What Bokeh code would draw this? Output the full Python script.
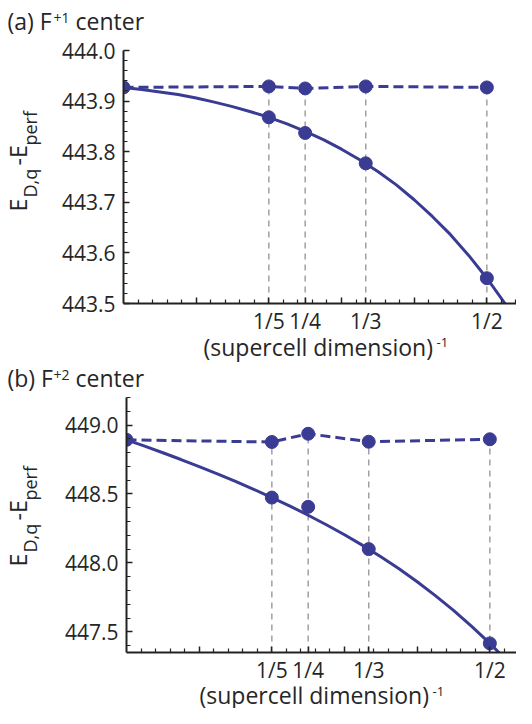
import math
from bokeh.plotting import figure
from bokeh.layouts import column, row
from bokeh.models import FixedTicker, Range1d, PrintfTickFormatter
from bokeh.core.properties import value
from bokeh.embed import file_html
from bokeh.resources import INLINE

# ---------------- data ----------------
frac_x = [1/5, 1/4, 1/3, 1/2]
frac_labels = ["1/5", "1/4", "1/3", "1/2"]
dash_x = [0, 1/5, 1/4, 1/3, 1/2]

# panel (a) F+1 center
a_dashed = [443.927, 443.929, 443.925, 443.929, 443.927]
a_points = [443.868, 443.837, 443.777, 443.550]
a_fit_x = [0, 0.025, 0.05, 0.075, 0.10, 0.125, 0.15, 0.175, 0.20, 0.225, 0.25, 0.275,
           0.30, 0.325, 0.35, 0.375, 0.40, 0.425, 0.45, 0.475, 0.50, 0.525]
a_fit_y = [443.927, 443.923, 443.918, 443.913, 443.906, 443.898, 443.889, 443.879,
           443.868, 443.855, 443.840, 443.824, 443.805, 443.784, 443.761, 443.735,
           443.705, 443.672, 443.636, 443.595, 443.550, 443.500]
a_yticks = [443.5, 443.6, 443.7, 443.8, 443.9, 444.0]
a_yminor = [443.52, 443.54, 443.56, 443.58, 443.62, 443.64, 443.66, 443.68,
            443.72, 443.74, 443.76, 443.78, 443.82, 443.84, 443.86, 443.88,
            443.92, 443.94, 443.96, 443.98]

# panel (b) F+2 center
b_dashed = [448.893, 448.877, 448.937, 448.879, 448.897]
b_points = [448.474, 448.407, 448.100, 447.416]
b_fit_x = [0, 0.025, 0.05, 0.075, 0.10, 0.125, 0.15, 0.175, 0.20, 0.225, 0.25, 0.275,
           0.30, 0.325, 0.35, 0.375, 0.40, 0.425, 0.45, 0.475, 0.50, 0.525]
b_fit_y = [448.893, 448.847, 448.799, 448.750, 448.698, 448.646, 448.591, 448.534,
           448.474, 448.412, 448.346, 448.277, 448.204, 448.127, 448.044, 447.957,
           447.863, 447.763, 447.656, 447.540, 447.416, 447.283]
b_yticks = [447.5, 448.0, 448.5, 449.0]
b_yminor = [447.4, 447.6, 447.7, 447.8, 447.9, 448.1, 448.2, 448.3, 448.4,
            448.6, 448.7, 448.8, 448.9, 449.1, 449.2]

x_major = [0.1, 0.2, 0.25, 0.3, 1/3, 0.4, 0.5]
x_minor = [0.02, 0.04, 0.06, 0.08, 0.12, 0.14, 0.16, 0.18, 0.22, 0.24, 0.26, 0.28,
           0.32, 0.34, 0.36, 0.38, 0.42, 0.44, 0.46, 0.48, 0.52, 0.54]

BLUE = "#3a3c94"
GRAY = "#a0a0a0"
AX = "#222222"
TXT = "#262626"
FONT = "Open Sans"
PX_PER_X = 726.7  # horizontal scale of the reference
K = 0.35          # baseline correction (fraction of font size)


def text_fig(w, h):
    f = figure(width=w, height=h, output_backend="svg", toolbar_location=None,
               x_range=Range1d(0, w), y_range=Range1d(0, h),
               x_axis_type=None, y_axis_type=None,
               min_border=0, min_border_left=0, min_border_right=0,
               min_border_top=0, min_border_bottom=0)
    f.frame_align = False
    f.outline_line_color = None
    f.grid.visible = False
    return f


def put(f, x, y, txt, size, rotated=False):
    # x, y: wanted baseline-start position (pixels inside this small figure, y up)
    k = K * size
    if rotated:
        x, ang = x - k, math.pi / 2
    else:
        y, ang = y + k, 0.0
    f.text(x=[x], y=[y], text=[txt], text_font=value(FONT),
           text_font_size=value(f"{size}px"), text_color=TXT,
           text_align="left", text_baseline="alphabetic", angle=ang)


def main_fig(w, h, ylo, yhi, xhi, yticks, yminor, bt, bb, bl,
             dashed, points, fit_x, fit_y):
    p = figure(width=w, height=h, output_backend="svg", toolbar_location=None,
               x_range=Range1d(0, xhi), y_range=Range1d(ylo, yhi),
               min_border_top=bt, min_border_bottom=bb, min_border_left=bl,
               min_border_right=0)
    p.frame_align = False
    p.outline_line_color = None
    p.grid.visible = False

    p.xaxis.ticker = FixedTicker(ticks=x_major, minor_ticks=x_minor)
    overrides = {0.1: "", 0.3: "", 0.4: ""}
    for v, t in zip(frac_x, frac_labels):
        overrides[v] = t
    p.xaxis.major_label_overrides = overrides
    p.yaxis.ticker = FixedTicker(ticks=yticks, minor_ticks=yminor)
    p.yaxis.formatter = PrintfTickFormatter(format="%.1f")
    for ax in (p.xaxis[0], p.yaxis[0]):
        ax.axis_line_width = 2
        ax.axis_line_color = AX
        ax.major_tick_line_color = AX
        ax.minor_tick_line_color = AX
        ax.major_tick_line_width = 1.5
        ax.minor_tick_line_width = 1.2
        ax.major_tick_in = 6
        ax.major_tick_out = 0
        ax.minor_tick_in = 4
        ax.minor_tick_out = 0
        ax.major_label_text_font = FONT
        ax.major_label_text_font_size = "21px"
        ax.major_label_text_color = TXT
    p.xaxis.major_label_standoff = 3
    p.yaxis.major_label_standoff = 8

    p.segment(x0=frac_x, x1=frac_x, y0=[ylo] * 4, y1=dashed[1:],
              line_color=GRAY, line_width=1.5, line_dash="6 5")
    p.line(fit_x, fit_y, line_color=BLUE, line_width=3)
    p.line(dash_x, dashed, line_color=BLUE, line_width=3, line_dash="10 5")
    p.scatter(dash_x, dashed, size=13, fill_color=BLUE, line_color=BLUE)
    p.scatter(frac_x, points, size=13, fill_color=BLUE, line_color=BLUE)
    return p


def ylab_fig(h, y0):
    f = text_fig(50, h)
    put(f, 26, y0, "E", 23, True)
    put(f, 36, y0 + 14, "D,q", 18, True)
    put(f, 26, y0 + 46, "-E", 23, True)
    put(f, 36, y0 + 66, "perf", 18, True)
    return f


def title_fig(h, base, sup_base, main_txt, sup_txt):
    f = text_fig(516, h)
    put(f, 7, base, main_txt, 23)
    put(f, 53, sup_base, sup_txt, 14)
    put(f, 75, base, "center", 23)
    return f


def xlab_fig(h, base, sup_base, start):
    f = text_fig(516, h)
    put(f, start, base, "(supercell dimension)", 23)
    put(f, start + 233, sup_base, "-1", 13)
    return f


# ---- panel (a) ----
ta = title_fig(36, 7, 14, "(a) F", "+1")
ma = main_fig(466, 301, 443.5, 444.0, (516 - 123) / PX_PER_X, a_yticks, a_yminor,
              14, 34, 73, a_dashed, a_points, a_fit_x, a_fit_y)
ya = ylab_fig(301, 126)
xa = xlab_fig(25, 7, 15, 203)

# ---- panel (b) ----
tb = title_fig(30, 6, 13, "(b) F", "+2")
mb = main_fig(466, 294, 447.35, 449.2, (516 - 126) / PX_PER_X, b_yticks, b_yminor,
              5, 34, 76, b_dashed, b_points, b_fit_x, b_fit_y)
yb = ylab_fig(294, 120)
xb = xlab_fig(22, 5, 12, 199)

layout = column(ta, row(ya, ma, spacing=0), xa, tb, row(yb, mb, spacing=0), xb, spacing=0)
open("out.html", "w").write(file_html(layout, INLINE))
